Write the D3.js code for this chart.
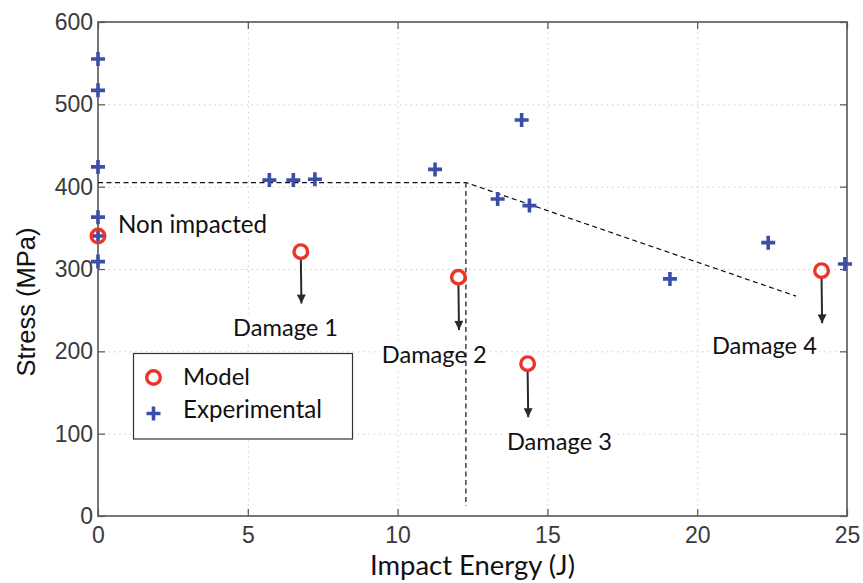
<!DOCTYPE html>
<html>
<head>
<meta charset="utf-8">
<script src="https://cdn.jsdelivr.net/npm/d3@7"></script>
<style>
  body { margin: 0; background: #fff; }
  svg { display: block; }
</style>
</head>
<body>
<svg id="chart" width="863" height="583"></svg>
<script>
// experimental tests: impact energy (J) / residual stress (MPa)
const expEnergy = [0, 0, 0, 0, 0, 0, 5.72, 6.52, 7.24, 11.25, 13.34, 14.14, 14.4, 19.09, 22.37, 24.93];
const expStress = [555, 517, 424, 363, 340, 309, 408, 408, 409, 421, 385, 481, 377, 288, 332, 306];

// model predictions
const modelEnergy = [0, 6.77, 12.03, 14.34, 24.15];
const modelStress = [340, 321, 290, 185, 298];
const modelLabels = ["Non impacted", "Damage 1", "Damage 2", "Damage 3", "Damage 4"];

// annotation anchors (data units) and arrow tips
const labelEnergy = [0.67, 4.51, 9.47, 13.65, 20.49];
const labelStress = [344, 219, 186, 80, 197];
const arrowTipStress = [null, 258, 226, 120, 234];

// dashed trend (plateau, then decreasing) and threshold line
const trendEnergy = [0, 12.28, 23.3];
const trendStress = [405, 405, 267];
const thresholdEnergy = [12.28, 12.28];
const thresholdStress = [405, 12];

const xTicks = [0, 5, 10, 15, 20, 25];
const yTicks = [0, 100, 200, 300, 400, 500, 600];

const width = 863, height = 583;
const margin = { top: 22, right: 16, bottom: 67, left: 98 };
const w = width - margin.left - margin.right;
const h = height - margin.top - margin.bottom;

const blue = "#3c4fa6";
const red = "#ec3328";
const humanist = "Lato, 'Open Sans', sans-serif";
const helv = "'Liberation Sans', Arial, sans-serif";

const svg = d3.select("#chart");
const g = svg.append("g").attr("transform", `translate(${margin.left},${margin.top})`);

const x = d3.scaleLinear().domain([0, 25]).range([0, w]);
const y = d3.scaleLinear().domain([0, 600]).range([h, 0]);

// fit a humanist-font label to the width it has in the figure
function fitText(sel, target) {
  sel.each(function () {
    const size = parseFloat(this.getAttribute("font-size"));
    const len = this.getComputedTextLength();
    if (len > 0) this.setAttribute("font-size", (size * target / len).toFixed(2));
  });
}

// grid
g.append("g")
  .attr("transform", `translate(0,${h})`)
  .call(d3.axisBottom(x).tickValues(xTicks.slice(1, -1)).tickSize(-h).tickFormat(""))
  .call(s => s.select(".domain").remove())
  .selectAll("line").attr("stroke", "#c4c4c4").attr("stroke-dasharray", "1.3,4");
g.append("g")
  .call(d3.axisLeft(y).tickValues(yTicks.slice(1, -1)).tickSize(-w).tickFormat(""))
  .call(s => s.select(".domain").remove())
  .selectAll("line").attr("stroke", "#c4c4c4").attr("stroke-dasharray", "1.3,4");

// axes with inward ticks
const axisColor = "#555";
const xAxis = g.append("g")
  .attr("transform", `translate(0,${h})`)
  .call(d3.axisBottom(x).tickValues(xTicks).tickSizeInner(-7).tickSizeOuter(0).tickPadding(11));
const yAxis = g.append("g")
  .call(d3.axisLeft(y).tickValues(yTicks).tickSizeInner(-7).tickSizeOuter(0).tickPadding(5));
g.append("g")
  .call(d3.axisTop(x).tickValues(xTicks).tickSizeInner(-7).tickSizeOuter(0).tickFormat(""));
g.append("g")
  .attr("transform", `translate(${w},0)`)
  .call(d3.axisRight(y).tickValues(yTicks).tickSizeInner(-7).tickSizeOuter(0).tickFormat(""));
g.selectAll(".domain").remove();
g.selectAll(".tick line").filter(function () { return this.getAttribute("stroke-dasharray") === null; })
  .attr("stroke", axisColor).attr("stroke-width", 1.2);
[xAxis, yAxis].forEach(a => a.selectAll("text")
  .attr("font-family", helv).attr("font-size", 23).attr("fill", "#3a3a3a"));

g.append("rect")
  .attr("width", w).attr("height", h)
  .attr("fill", "none").attr("stroke", axisColor).attr("stroke-width", 1.6);

// annotation labels with white backing
const bgLayer = g.append("g");
const labels = g.append("g").selectAll("text")
  .data(modelLabels)
  .join("text")
  .attr("x", (d, i) => x(labelEnergy[i]))
  .attr("y", (d, i) => y(labelStress[i]))
  .attr("font-family", humanist)
  .attr("font-size", 24)
  .attr("fill", "#111")
  .text(d => d);
labels.each(function (d, i) { fitText(d3.select(this), i === 0 ? 149 : 105); });
labels.each(function () {
  const b = this.getBBox();
  bgLayer.append("rect")
    .attr("x", b.x - 2).attr("y", b.y + 2)
    .attr("width", b.width + 4).attr("height", b.height - 2)
    .attr("fill", "#fff");
});

// dashed trend lines
const line = d3.line().x(d => x(d[0])).y(d => y(d[1]));
g.append("path")
  .attr("d", line(d3.zip(trendEnergy, trendStress)))
  .attr("fill", "none").attr("stroke", "#111").attr("stroke-width", 1.2).attr("stroke-dasharray", "5,3.5");
g.append("path")
  .attr("d", line(d3.zip(thresholdEnergy, thresholdStress)))
  .attr("fill", "none").attr("stroke", "#111").attr("stroke-width", 1.2).attr("stroke-dasharray", "5,3.5");

// arrows
svg.append("defs").append("marker")
  .attr("id", "head")
  .attr("viewBox", "0 0 10 10")
  .attr("refX", 10).attr("refY", 5)
  .attr("markerUnits", "userSpaceOnUse")
  .attr("markerWidth", 11).attr("markerHeight", 9)
  .attr("orient", "auto")
  .append("path").attr("d", "M0,0L10,5L0,10z").attr("fill", "#2a2a2a");

g.append("g").selectAll("line")
  .data(modelEnergy.map((e, i) => i).filter(i => arrowTipStress[i] !== null))
  .join("line")
  .attr("x1", i => x(modelEnergy[i]))
  .attr("y1", i => y(modelStress[i]) + 7)
  .attr("x2", i => x(modelEnergy[i]) + 0.6)
  .attr("y2", i => y(arrowTipStress[i]))
  .attr("stroke", "#2a2a2a").attr("stroke-width", 2)
  .attr("marker-end", "url(#head)");

// experimental crosses
const cross = "M-7,0H7M0,-7V7";
g.append("g").selectAll("path")
  .data(expEnergy)
  .join("path")
  .attr("transform", (d, i) => `translate(${x(d)},${y(expStress[i])})`)
  .attr("d", cross)
  .attr("stroke", blue).attr("stroke-width", 3.6).attr("fill", "none");

// model circles (open, so the coincident cross shows through)
g.append("g").selectAll("circle")
  .data(modelEnergy)
  .join("circle")
  .attr("cx", d => x(d))
  .attr("cy", (d, i) => y(modelStress[i]))
  .attr("r", 6.8)
  .attr("fill", "none").attr("stroke", red).attr("stroke-width", 3.4);

// legend
const legend = svg.append("g").attr("transform", "translate(133.5,353.5)");
legend.append("rect")
  .attr("width", 219).attr("height", 85.5)
  .attr("fill", "#fff").attr("stroke", "#333").attr("stroke-width", 1.2);
legend.append("circle")
  .attr("cx", 20).attr("cy", 24).attr("r", 6.8)
  .attr("fill", "none").attr("stroke", red).attr("stroke-width", 3.4);
legend.append("path")
  .attr("transform", "translate(20,60)")
  .attr("d", cross).attr("stroke", blue).attr("stroke-width", 3.6);
const legendText = legend.selectAll("text")
  .data(["Model", "Experimental"])
  .join("text")
  .attr("x", 49.5)
  .attr("y", (d, i) => i === 0 ? 31.5 : 64)
  .attr("font-family", humanist)
  .attr("font-size", 25)
  .attr("fill", "#111")
  .text(d => d);
legendText.each(function (d, i) { fitText(d3.select(this), i === 0 ? 67 : 139); });

// axis titles
svg.append("text")
  .attr("transform", "translate(35,302) rotate(-90)")
  .attr("text-anchor", "middle")
  .attr("font-family", helv)
  .attr("font-size", 25.5)
  .attr("fill", "#111")
  .text("Stress (MPa)");
svg.append("text")
  .attr("x", 472.5).attr("y", 575)
  .attr("text-anchor", "middle")
  .attr("font-family", humanist)
  .attr("font-size", 28)
  .attr("fill", "#111")
  .text("Impact Energy (J)")
  .call(s => fitText(s, 205));
</script>
</body>
</html>
